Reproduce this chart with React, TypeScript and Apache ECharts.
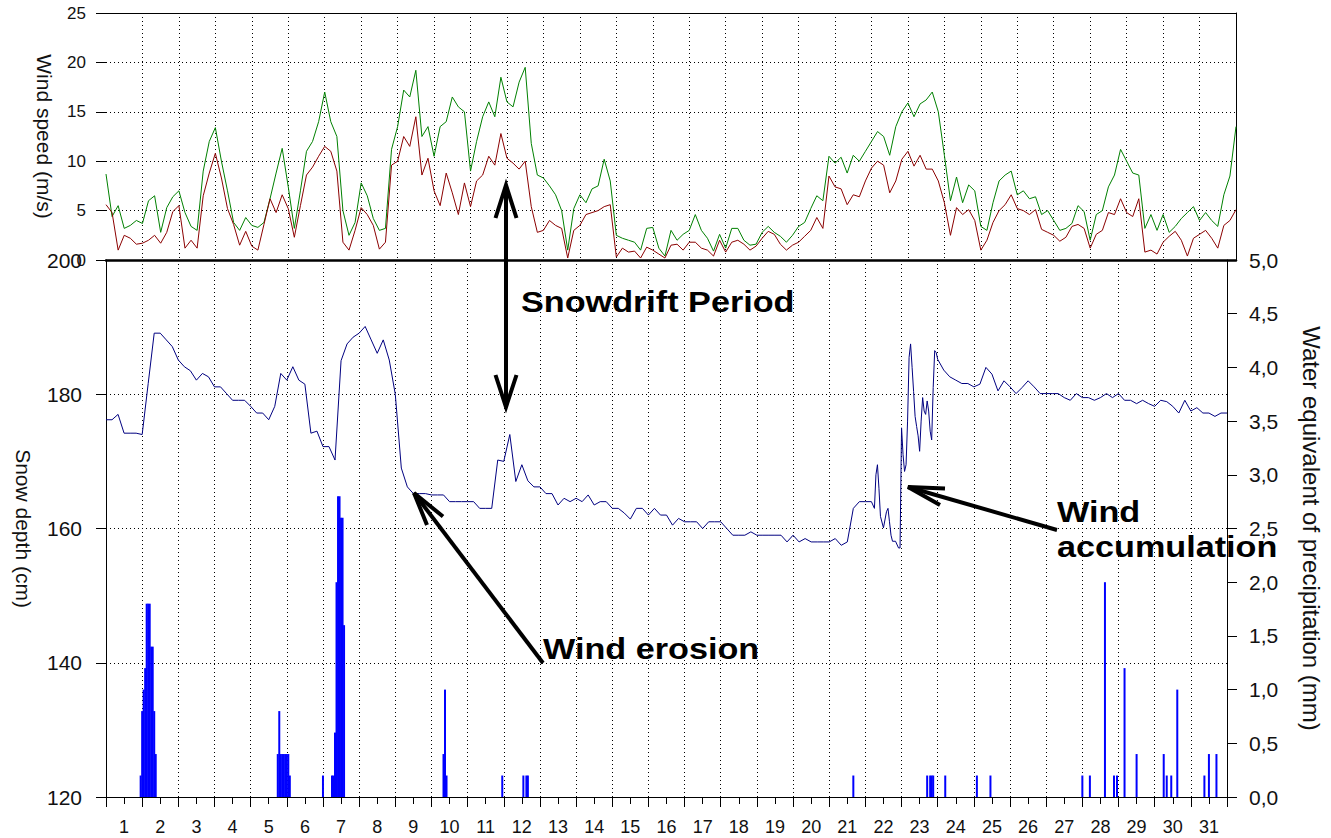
import React, { useEffect, useRef } from 'react';
import * as echarts from 'echarts';

// ---------- DATA ----------
const dayLabels = ['1','2','3','4','5','6','7','8','9','10','11','12','13','14','15','16','17','18','19','20','21','22','23','24','25','26','27','28','29','30','31'];

// wind speed, one value every 4 hours from hour 0 to hour 744 (m/s)
const windGust = [
  8.7, 4.4, 5.5, 3.2, 3.5, 4.0,
  3.7, 6.0, 6.5, 2.8, 5.3, 6.4,
  7.0, 4.8, 3.4, 3.0, 9.0, 12.0,
  13.4, 10.0, 7.0, 3.8, 3.0, 4.3,
  3.5, 3.3, 3.8, 6.2, 8.8, 11.3,
  7.4, 3.2, 7.0, 11.0, 12.0, 14.0,
  17.0, 14.0, 12.5, 5.0, 2.5, 3.8,
  7.8, 6.5, 4.2, 3.0, 3.2, 11.2,
  13.5, 17.2, 16.5, 19.2, 12.5, 13.5,
  10.5, 13.5, 14.0, 16.5, 15.5, 15.0,
  9.0, 12.0, 14.5, 16.0, 14.5, 18.5,
  16.0, 15.5, 18.0, 19.5, 11.8, 8.6,
  8.3, 7.5, 6.6, 5.0, 1.0, 5.2,
  6.6, 5.8, 7.2, 7.5, 10.2, 8.0,
  2.5, 2.2, 2.0, 1.8, 1.0, 3.2,
  3.3, 1.2, 0.4, 3.0, 2.0, 2.6,
  3.0, 4.6, 3.0, 2.2, 0.9, 2.6,
  1.2, 3.2, 3.2, 2.0, 1.5, 1.6,
  2.8, 3.4, 2.8, 2.4, 1.8, 2.5,
  3.4, 3.8, 5.2, 6.5, 6.0, 10.5,
  9.8, 10.4, 8.8, 10.6, 10.0, 11.0,
  12.0, 13.0, 12.5, 10.6, 13.5, 15.0,
  15.9, 14.5, 15.8, 16.2, 17.0, 15.0,
  10.6, 6.0, 8.4, 5.8, 7.6, 7.0,
  3.4, 3.0, 5.8, 8.0, 8.6, 9.0,
  6.6, 7.0, 6.2, 6.4, 4.6, 5.0,
  4.0, 3.0, 3.2, 3.7, 5.5, 4.9,
  2.0, 4.6, 5.0, 7.4, 8.6, 11.2,
  10.0, 8.8, 8.6, 3.2, 4.6, 3.0,
  4.6, 2.8, 3.4, 4.2, 4.8, 5.4,
  4.0, 4.8, 4.0, 3.4, 6.6, 8.5, 13.5,
];

const windMean = [
  5.6, 4.8, 1.0, 2.5, 2.2, 1.6,
  1.7, 2.0, 2.5, 1.7, 2.8, 4.9,
  5.5, 1.2, 2.0, 1.2, 6.5, 8.8,
  10.8, 8.3, 5.2, 3.6, 1.5, 2.9,
  1.4, 1.0, 3.6, 6.2, 4.8, 6.6,
  5.2, 2.3, 5.5, 8.6, 9.4, 10.5,
  11.5, 11.0, 9.0, 1.8, 1.0, 3.0,
  5.3, 4.6, 3.5, 1.1, 1.8, 9.6,
  10.0, 12.5, 11.5, 14.5, 8.6, 10.3,
  7.0, 5.5, 8.8, 6.8, 4.6, 7.8,
  5.4, 8.0, 8.6, 10.5, 9.6, 12.8,
  10.3, 9.8, 9.2, 10.0, 5.4, 2.8,
  3.0, 4.0, 3.5, 3.2, 0.2, 3.0,
  3.5, 4.6, 4.8, 5.0, 5.4, 5.6,
  0.3, 1.2, 0.8, 0.9, 0.2, 1.3,
  1.0, 0.6, 0.2, 1.5, 1.6, 1.0,
  1.8, 1.8, 1.2, 1.0, 0.4, 2.0,
  0.8, 1.8, 2.0, 1.6, 1.0, 1.4,
  2.2, 2.9, 2.6, 1.6, 1.0, 1.5,
  1.8, 2.4, 3.0, 4.3, 3.2, 8.5,
  7.4, 7.2, 5.6, 6.6, 6.4, 8.0,
  9.3, 10.0, 9.6, 6.8, 8.0, 10.2,
  11.0, 9.5, 10.6, 9.2, 9.2, 8.0,
  5.8, 2.5, 5.3, 4.6, 5.1, 4.0,
  1.0, 2.0, 3.8, 5.0, 5.6, 6.6,
  5.2, 5.0, 4.6, 5.1, 3.1, 2.8,
  2.5, 1.9, 2.3, 3.4, 3.6, 3.2,
  1.2, 2.6, 3.0, 4.8, 4.6, 6.2,
  4.8, 4.4, 6.2, 0.8, 1.0, 0.6,
  1.8, 2.4, 2.9, 2.0, 0.4, 2.2,
  2.6, 3.0, 2.2, 1.2, 3.5, 4.0, 5.1,
];

// snow depth (cm): every 4 hours, hours 0..500
const snowDepthEarly = [
  176.2, 176.2, 177.0, 174.2, 174.2, 174.2,
  174.0, 181.6, 189.1, 189.1, 188.1, 187.1,
  185.1, 184.1, 183.5, 182.1, 183.1, 182.6,
  181.1, 181.1, 180.1, 179.1, 179.1, 179.1,
  178.2, 177.2, 177.2, 176.2, 178.2, 183.1,
  182.1, 184.1, 182.1, 181.5, 174.2, 174.5,
  172.2, 172.2, 170.2, 185.0, 187.5, 188.5,
  189.1, 190.1, 188.1, 186.1, 188.1, 185.1,
  180.0, 169.0, 166.2, 165.2, 165.2, 165.2,
  165.0, 165.0, 165.0, 164.0, 164.0, 164.0,
  164.0, 164.0, 163.0, 163.0, 163.0, 170.2,
  170.0, 174.0, 167.0, 169.5, 167.1, 166.2,
  166.2, 165.2, 165.2, 163.5, 164.5, 164.0,
  164.5, 164.0, 165.0, 163.5, 164.0, 164.0,
  163.0, 163.0, 162.3, 161.4, 163.0, 163.0,
  162.0, 163.0, 162.0, 162.0, 160.5, 161.5,
  161.0, 161.0, 161.0, 160.0, 161.0, 161.0,
  161.0, 160.0, 159.0, 159.0, 159.0, 159.5,
  159.0, 159.0, 159.0, 159.0, 159.0, 158.0,
  159.0, 158.0, 158.5, 158.0, 158.0, 158.0,
  158.0, 158.5, 157.5, 158.0, 163.0, 164.0,
];
// snow depth (cm): detailed readings, days 22-23
const snowDetailHours = [504, 508, 510, 511, 512, 513, 514, 516, 518, 519, 520, 521, 522, 524, 526, 527, 528, 529, 530, 531, 532, 533, 534, 535, 536, 537, 538, 539, 540, 541, 542, 543, 544, 545, 546, 547, 548, 549, 550, 551, 552];
const snowDetailDepth = [164.0, 164.0, 163.0, 168.0, 169.5, 166.0, 161.8, 160.1, 162.5, 163.0, 161.0, 159.0, 158.1, 158.1, 157.1, 157.1, 175.0, 171.0, 168.5, 169.5, 176.0, 185.5, 187.5, 184.0, 180.4, 176.7, 175.2, 173.8, 171.5, 176.0, 179.5, 177.5, 177.0, 179.0, 177.5, 174.5, 173.2, 181.0, 186.5, 186.2, 185.2];
// snow depth (cm): every 4 hours, hours 556..744
const snowDepthLate = [
  183.6, 182.6, 182.1, 181.6, 181.6,
  181.1, 181.5, 184.0, 183.0, 180.5, 182.0,
  181.1, 180.1, 181.0, 182.0, 181.1, 180.1,
  180.1, 180.1, 180.1, 179.5, 179.1, 180.1,
  179.5, 179.5, 179.1, 179.5, 180.1, 179.5,
  180.1, 179.1, 179.1, 178.6, 179.1, 178.6,
  178.2, 179.1, 178.9, 178.2, 177.2, 179.1,
  177.5, 178.0, 177.2, 177.2, 176.7, 177.2, 177.2,
];

// hourly precipitation (mm)
const precipHours = [23, 24, 25, 26, 27, 28, 29, 30, 31, 32, 33,
  114, 115, 116, 117, 118, 119, 120, 121, 122,
  144,
  150, 151, 152, 153, 154, 155, 156, 157, 158,
  224, 225, 226,
  263, 277, 279, 280,
  496,
  545, 547, 548, 549,
  557, 578, 587, 648, 653, 663, 669, 671, 676, 684, 702, 704, 707, 711, 729, 732, 737];
const precipMm = [0.2, 0.8, 1.0, 1.2, 1.8, 1.8, 1.8, 1.4, 1.4, 0.8, 0.4,
  0.4, 0.8, 0.4, 0.4, 0.4, 0.4, 0.4, 0.4, 0.2,
  0.2,
  0.2, 0.2, 0.6, 2.0, 2.8, 2.8, 2.6, 2.6, 1.6,
  0.4, 1.0, 0.2,
  0.2, 0.2, 0.2, 0.2,
  0.2,
  0.2, 0.2, 0.2, 0.2,
  0.2, 0.2, 0.2, 0.2, 0.2, 2.0, 0.2, 0.2, 1.2, 0.4, 0.4, 0.2, 0.2, 1.0, 0.2, 0.4, 0.4];

// ---------- CHART ----------
const FONT = '"Liberation Sans", Arial, sans-serif';
const dotted = { type: [1, 3], color: '#000', width: 1 };
const arrowStyle = { stroke: '#000', lineWidth: 4, fill: null, lineJoin: 'miter' };

function buildOption() {
  const gustData = windGust.map((v, i) => [i * 4, v]);
  const meanData = windMean.map((v, i) => [i * 4, v]);
  const snowData: number[][] = [];
  snowDepthEarly.forEach((v, i) => snowData.push([i * 4, v]));
  snowDetailHours.forEach((h, i) => snowData.push([h, snowDetailDepth[i]]));
  snowDepthLate.forEach((v, i) => snowData.push([556 + i * 4, v]));
  const precipData = precipHours.map((h, i) => [h, precipMm[i]]);

  const txt = (text: string, x: number, y: number) => ({
    type: 'text', x, y, z: 100, scaleX: 1.14,
    style: { text, font: `bold 30px ${FONT}`, fill: '#000', textAlign: 'left', textVerticalAlign: 'middle', align: 'left', verticalAlign: 'middle' },
  });
  const pl = (points: number[][]) => ({ type: 'polyline', z: 100, shape: { points }, style: arrowStyle });

  return {
    animation: false,
    backgroundColor: '#fff',
    grid: [
      { left: 106, right: 95, top: 13, height: 247 },
      { left: 106, right: 95, top: 260, height: 537 },
    ],
    xAxis: [
      {
        gridIndex: 0, type: 'value', min: 0, max: 744, interval: 24, position: 'bottom',
        axisLine: { show: true, onZero: false, lineStyle: { color: '#000', width: 2.5 } },
        axisTick: { show: false }, axisLabel: { show: false },
        splitLine: { show: true, showMinLine: false, showMaxLine: false, lineStyle: dotted },
      },
      {
        gridIndex: 0, type: 'value', min: 0, max: 744, position: 'top',
        axisLine: { show: true, onZero: false, lineStyle: { color: '#000', width: 1 } },
        axisTick: { show: false }, axisLabel: { show: false }, splitLine: { show: false },
      },
      {
        gridIndex: 1, type: 'value', min: 0, max: 744, interval: 24, position: 'bottom',
        axisLine: { show: true, onZero: false, lineStyle: { color: '#000', width: 1 } },
        axisTick: { show: true, length: 10, lineStyle: { color: '#000' } }, axisLabel: { show: false },
        splitLine: { show: true, showMinLine: false, showMaxLine: false, lineStyle: dotted },
      },
      {
        gridIndex: 1, type: 'category', data: dayLabels, position: 'bottom', boundaryGap: true,
        axisLine: { show: false },
        axisTick: { show: true, alignWithLabel: true, length: 7, lineStyle: { color: '#000' } },
        axisLabel: { show: true, interval: 0, margin: 21, fontSize: 18, color: '#111', fontFamily: FONT },
        splitLine: { show: false },
      },
    ],
    yAxis: [
      {
        gridIndex: 0, type: 'value', min: 0, max: 25, interval: 5, position: 'left',
        axisLine: { show: false, onZero: false },
        axisTick: { show: true, length: 10, lineStyle: { color: '#000' } },
        axisLabel: { margin: 20, fontSize: 17, color: '#111', fontFamily: FONT },
        splitLine: { show: true, showMinLine: false, showMaxLine: false, lineStyle: dotted },
        name: 'Wind speed (m/s)', nameLocation: 'middle', nameRotate: -90, nameGap: 51,
        nameTextStyle: { fontSize: 21, color: '#111', fontFamily: FONT },
      },
      {
        gridIndex: 0, type: 'value', min: 0, max: 25, position: 'right',
        axisLine: { show: true, onZero: false, lineStyle: { color: '#000', width: 1 } },
        axisTick: { show: false }, axisLabel: { show: false }, splitLine: { show: false },
      },
      {
        gridIndex: 1, type: 'value', min: 120, max: 200, interval: 20, position: 'left',
        axisLine: { show: true, onZero: false, lineStyle: { color: '#000', width: 1 } },
        axisTick: { show: true, length: 10, lineStyle: { color: '#000' } },
        axisLabel: { margin: 24, fontSize: 21, color: '#111', fontFamily: FONT },
        splitLine: { show: true, showMinLine: false, showMaxLine: false, lineStyle: dotted },
        name: 'Snow depth (cm)', nameLocation: 'middle', nameRotate: -90, nameGap: 72,
        nameTextStyle: { fontSize: 21, color: '#111', fontFamily: FONT },
      },
      {
        gridIndex: 1, type: 'value', min: 0, max: 5, interval: 0.5, position: 'right',
        axisLine: { show: true, onZero: false, lineStyle: { color: '#000', width: 1 } },
        axisTick: { show: true, length: 10, lineStyle: { color: '#000' } },
        axisLabel: {
          margin: 22, fontSize: 21, color: '#111', fontFamily: FONT,
          formatter: (v: number) => v.toFixed(1).replace('.', ','),
        },
        splitLine: { show: false },
        name: 'Water equivalent of precipitation (mm)', nameLocation: 'middle', nameRotate: -90, nameGap: 72,
        nameTextStyle: { fontSize: 24, color: '#111', fontFamily: FONT },
      },
    ],
    series: [
      {
        type: 'line', name: 'gust', xAxisIndex: 0, yAxisIndex: 0, data: gustData, symbol: 'none',
        lineStyle: { color: '#008000', width: 1 }, itemStyle: { color: '#008000' }, z: 3,
      },
      {
        type: 'line', name: 'mean', xAxisIndex: 0, yAxisIndex: 0, data: meanData, symbol: 'none',
        lineStyle: { color: '#8b0000', width: 1 }, itemStyle: { color: '#8b0000' }, z: 4,
      },
      {
        type: 'line', name: 'snow', xAxisIndex: 2, yAxisIndex: 2, data: snowData, symbol: 'none',
        lineStyle: { color: '#000080', width: 1 }, itemStyle: { color: '#000080' }, z: 4,
      },
      {
        type: 'bar', name: 'precip', xAxisIndex: 2, yAxisIndex: 3, data: precipData, barWidth: 2,
        itemStyle: { color: '#0000ff' }, z: 3,
      },
    ],
    graphic: [
      pl([[506, 185], [506, 407]]),
      pl([[495.5, 218], [506, 185], [516.5, 218]]),
      pl([[495.5, 375], [506, 407], [516.5, 375]]),
      pl([[543, 663], [414, 493]]),
      pl([[443, 516.5], [414, 493], [427, 525]]),
      pl([[1057, 530], [908, 487]]),
      pl([[945, 488.5], [908, 487], [940, 505]]),
      txt('Snowdrift Period', 521, 302),
      txt('Wind erosion', 543, 649),
      txt('Wind', 1057, 512),
      txt('accumulation', 1057, 547),
    ],
  };
}

export default function App() {
  const ref = useRef<HTMLDivElement>(null);
  useEffect(() => {
    if (!ref.current) return;
    const chart = echarts.init(ref.current, null, { renderer: 'svg' });
    chart.setOption(buildOption() as any);
    return () => chart.dispose();
  }, []);
  return (
    <div
      ref={ref}
      style={{ position: 'fixed', left: 0, top: 0, width: 1331, height: 838, background: '#fff' }}
    />
  );
}
